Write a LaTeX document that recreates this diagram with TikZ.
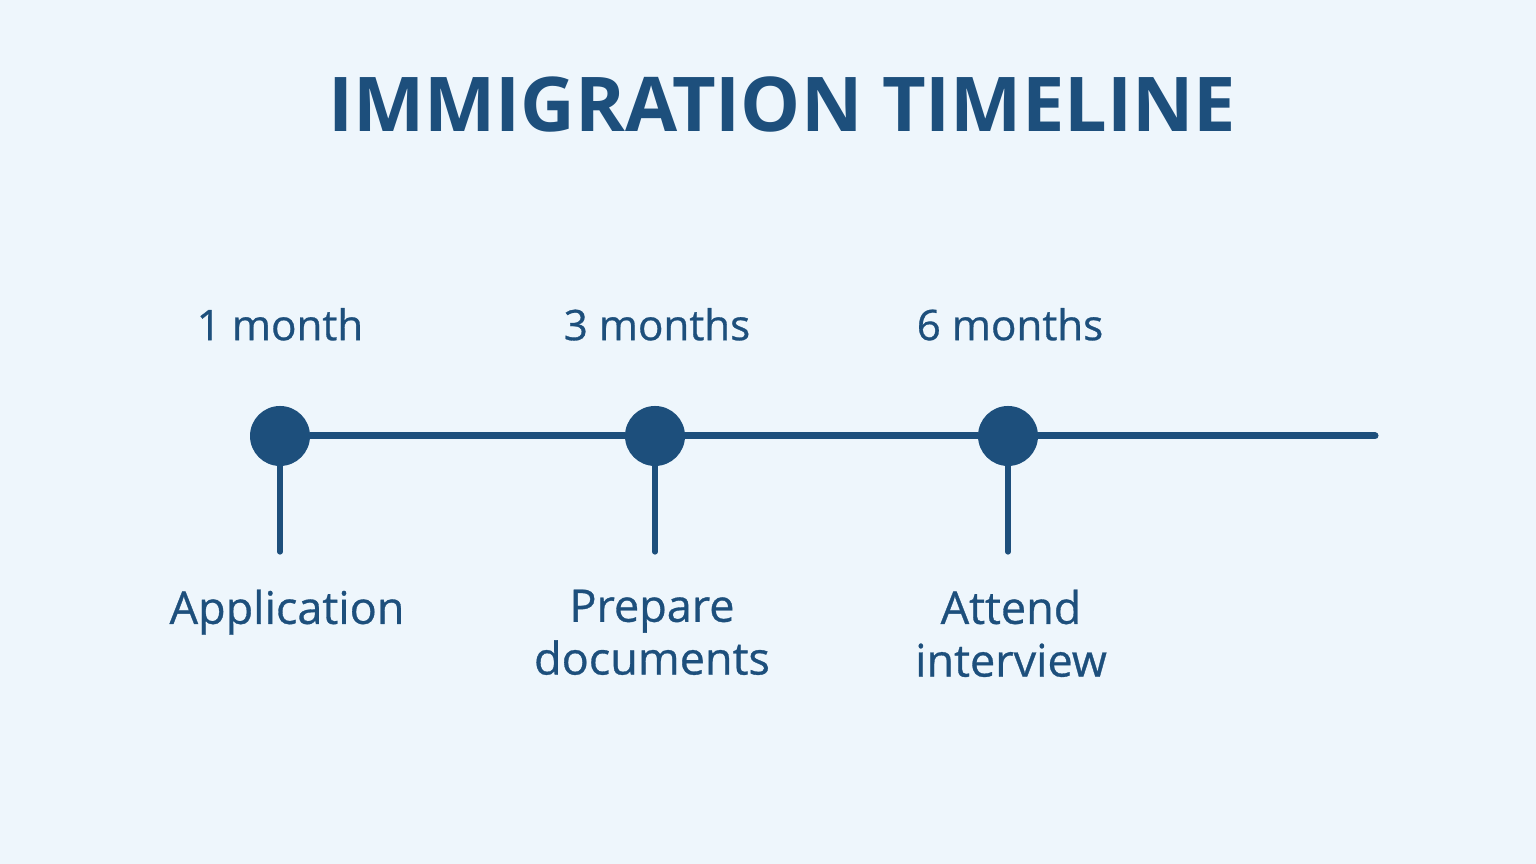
\documentclass[tikz,border=0pt]{standalone}
\usepackage{fontspec}
\setmainfont{Open Sans}
\newfontfamily\labelfont{Open Sans}[FakeBold=0.7]
\usepackage{xcolor}
\usepackage{tikz}
\usetikzlibrary{positioning,calc}

\definecolor{bgblue}{HTML}{EEF6FC}
\definecolor{navy}{HTML}{1D4F7C}

\begin{document}
\begin{tikzpicture}[
    dot/.style={circle, fill=navy, minimum size=0.60cm, inner sep=0pt},
    axis/.style={navy, line width=2pt, line cap=round},
    stem/.style={navy, line width=1.5pt, line cap=round},
    period/.style={text=navy, inner sep=0pt, font=\labelfont\fontsize{12}{15}\selectfont},
    event/.style={text=navy, inner sep=0pt, align=center, font=\labelfont\fontsize{12.8}{15}\selectfont},
]
    \fill[bgblue] (0,0) rectangle (15.36,8.64);
    \useasboundingbox (0,0) rectangle (15.36,8.64);

    % Title
    \node[text=navy, anchor=base, inner sep=0pt, font=\fontsize{21.5}{24}\selectfont\bfseries] (title) at (7.82, 7.32) {IMMIGRATION TIMELINE};

    % Milestones
    \node[dot] (d1) at (2.80, 4.28) {};
    \node[dot] (d2) at (6.55, 4.28) {};
    \node[dot] (d3) at (10.08, 4.28) {};
    \coordinate (lineend) at (13.75, 4.28);

    % Timeline
    \draw[axis] (d1) -- (d2) -- (d3) -- (lineend);

    % Stems
    \coordinate (s1) at (2.80, 3.12);
    \coordinate (s2) at (6.55, 3.12);
    \coordinate (s3) at (10.08, 3.12);
    \draw[stem] (d1) -- (s1);
    \draw[stem] (d2) -- (s2);
    \draw[stem] (d3) -- (s3);

    % Durations
    \node[period, above=0.64cm of d1] (p1) {1 month};
    \node[period, above=0.64cm of d2, xshift=0.02cm] (p2) {3 months};
    \node[period, above=0.64cm of d3, xshift=0.02cm] (p3) {6 months};

    % Steps
    \node[event, below=0.37cm of s1, xshift=0.07cm] (e1) {Application};
    \node[event, below=0.37cm of s2, xshift=-0.03cm] (e2) {Prepare\\documents};
    \node[event, below=0.37cm of s3, xshift=0.03cm] (e3) {Attend\\interview};
\end{tikzpicture}
\end{document}
